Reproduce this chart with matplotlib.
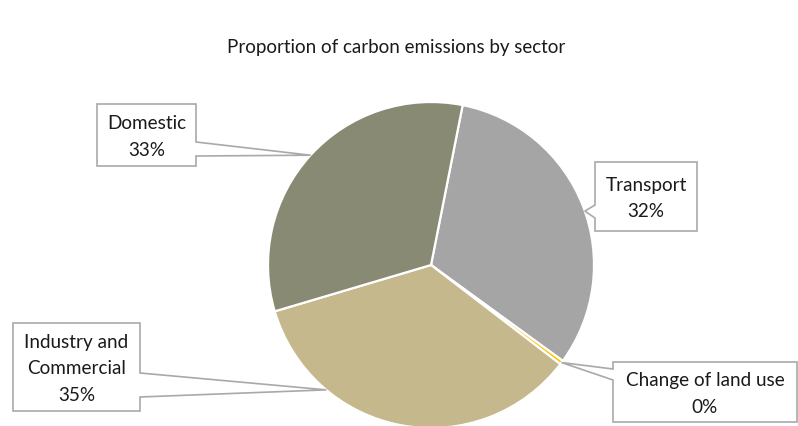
import numpy as np
import matplotlib.pyplot as plt
from matplotlib.patches import Polygon

plt.rcParams["font.family"] = ["Lato", "DejaVu Sans"]

# Sector shares of carbon emissions (percent)
sectors = ["Transport", "Change of land use", "Industry and\nCommercial", "Domestic"]
shares = [31.9, 0.4, 35.0, 32.7]
colors = ["#a5a5a5", "#ffc000", "#c4b88c", "#898a74"]

# Callout layout in pixel space: box (x0, y0, x1, y1), side the pointer leaves from,
# the pointer's base span on that side, and the angle (deg clockwise from top) it aims at.
boxes = [(595, 162, 697, 231), (613, 362, 797, 422), (13, 323, 140, 411), (97, 104, 196, 166)]
pointer_side = ["left", "left", "right", "right"]
pointer_span = [(205, 218), (369, 380), (373, 397), (142, 156)]
tip_angle = [70.7, None, 220.0, None]  # None -> wedge mid-angle

W, H = 798, 426
cx, cy, R = 431, 265, 163
start = 11.2  # deg clockwise from 12 o'clock

fig = plt.figure(figsize=(W / 100, H / 100), dpi=100)
ax = fig.add_axes([0, 0, 1, 1])

# y axis is inverted (pixel rows), so counterclock=True draws clockwise on screen
ax.pie(
    shares,
    colors=colors,
    center=(cx, cy),
    radius=R,
    startangle=start - 90,
    counterclock=True,
    wedgeprops=dict(edgecolor="white", linewidth=1.6),
)
ax.set_xlim(0, W)
ax.set_ylim(H, 0)
ax.set_aspect("equal")
ax.axis("off")

total = sum(shares)
cum = start
for i, (name, v) in enumerate(zip(sectors, shares)):
    span = v / total * 360
    mid = cum + span / 2
    cum += span
    ang = np.radians(tip_angle[i] if tip_angle[i] is not None else mid)
    tip = (cx + R * np.sin(ang), cy - R * np.cos(ang))

    x0, y0, x1, y1 = boxes[i]
    pa, pb = pointer_span[i]
    if pointer_side[i] == "right":
        verts = [(x0, y0), (x1, y0), (x1, pa), tip, (x1, pb), (x1, y1), (x0, y1)]
    else:
        verts = [(x0, y0), (x1, y0), (x1, y1), (x0, y1), (x0, pb), tip, (x0, pa)]
    ax.add_patch(Polygon(verts, closed=True, facecolor="white",
                         edgecolor="#a9a9a9", linewidth=1.2, zorder=5))
    ax.text((x0 + x1) / 2, (y0 + y1) / 2 + 2, f"{name}\n{v / total * 100:.0f}%",
            ha="center", va="center", fontsize=13.6, color="#1a1a1a",
            linespacing=1.65, zorder=6)

ax.text(396, 48, "Proportion of carbon emissions by sector",
        ha="center", va="center", fontsize=13.5, color="#1a1a1a")

fig.savefig("out.png", dpi=100)
